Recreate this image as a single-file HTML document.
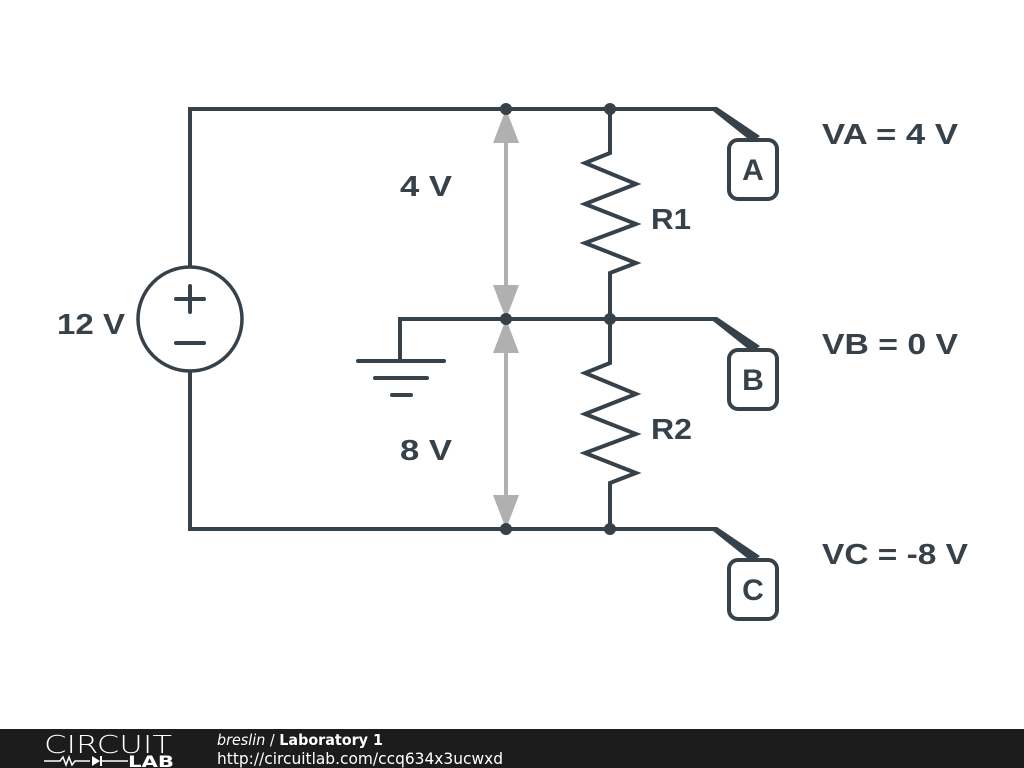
<!DOCTYPE html>
<html><head><meta charset="utf-8"><style>
html,body{margin:0;padding:0;background:#fff;}
svg{display:block}
text{font-family:"DejaVu Sans","Liberation Sans",sans-serif;}
.l{font-family:"Liberation Sans","DejaVu Sans",sans-serif;}
</style></head><body>
<svg width="1024" height="768" viewBox="0 0 1024 768" xmlns="http://www.w3.org/2000/svg">
<rect width="1024" height="768" fill="#fff"/>
<g stroke="#b0b0b0" stroke-width="4" fill="#b0b0b0">
<line x1="506" y1="130" x2="506" y2="300"/>
<line x1="506" y1="340" x2="506" y2="510"/>
</g>
<g fill="#b0b0b0">
<polygon points="506,109 493,143 519,143"/>
<polygon points="506,319 493,285 519,285"/>
<polygon points="506,319 493,353 519,353"/>
<polygon points="506,529 493,495 519,495"/>
</g>
<g stroke="#37414a" stroke-width="4" fill="none" stroke-linejoin="miter" stroke-linecap="round">
<polyline points="190,266 190,109 715,109"/>
<polyline points="190,372 190,529 715,529"/>
<line x1="506" y1="319" x2="715" y2="319"/>
<polyline points="400,361 400,319 506,319"/>
<line x1="358" y1="361" x2="444" y2="361"/>
<line x1="375" y1="378" x2="427" y2="378"/>
<line x1="392" y1="395" x2="411" y2="395"/>
<circle cx="190" cy="319" r="52" stroke-width="3.5"/>
<line x1="176" y1="299" x2="204" y2="299"/><line x1="190" y1="286" x2="190" y2="312"/>
<line x1="176" y1="343" x2="204" y2="343"/>
<polyline points="610,109 610,153 585,163 636,184 585,204 636,224 585,243 636,263 610,273 610,319"/>
<polyline points="610,319 610,363 585,373 636,394 585,414 636,434 585,453 636,473 610,483 610,529"/>
<rect x="729" y="140" width="48" height="59" rx="9"/>
<rect x="729" y="350" width="48" height="59" rx="9"/>
<rect x="729" y="560" width="48" height="59" rx="9"/>
</g>
<g fill="#37414a">
<circle cx="506" cy="109" r="6"/><circle cx="610" cy="109" r="6"/>
<circle cx="506" cy="319" r="6"/><circle cx="610" cy="319" r="6"/>
<circle cx="506" cy="529" r="6"/><circle cx="610" cy="529" r="6"/>
<polygon points="713,107 717,107 760,136 752,142 713,111"/>
<polygon points="713,317 717,317 760,346 752,352 713,321"/>
<polygon points="713,527 717,527 760,556 752,562 713,531"/>
</g>
<g fill="#37414a" font-weight="bold" font-size="29" class="l">
<text class="l" x="57" y="334" textLength="68" lengthAdjust="spacingAndGlyphs">12 V</text>
<text class="l" x="400" y="196" textLength="52" lengthAdjust="spacingAndGlyphs">4 V</text>
<text class="l" x="400" y="460" textLength="52" lengthAdjust="spacingAndGlyphs">8 V</text>
<text class="l" x="651" y="229" textLength="40" lengthAdjust="spacingAndGlyphs">R1</text>
<text class="l" x="651" y="439" textLength="41" lengthAdjust="spacingAndGlyphs">R2</text>
<text class="l" x="822" y="144" textLength="136" lengthAdjust="spacingAndGlyphs">VA = 4 V</text>
<text class="l" x="822" y="354" textLength="136" lengthAdjust="spacingAndGlyphs">VB = 0 V</text>
<text class="l" x="822" y="564" textLength="146" lengthAdjust="spacingAndGlyphs">VC = -8 V</text>
<text class="l" x="753" y="180" text-anchor="middle" font-size="30">A</text>
<text class="l" x="753" y="390" text-anchor="middle" font-size="30">B</text>
<text class="l" x="753" y="600" text-anchor="middle" font-size="30">C</text>
</g>
<rect x="0" y="729" width="1024" height="39" fill="#1c1c1c"/>
<text x="44" y="753" fill="#fff" font-size="25" font-weight="200" textLength="128" lengthAdjust="spacingAndGlyphs">CIRCUIT</text>
<polyline points="44,761 60,761 63,757 66,765 69,757 72,765 75,761 90,761" stroke="#fff" stroke-width="1.5" fill="none"/>
<polygon points="92,756 92,766 100,761" fill="#fff"/><line x1="101" y1="756" x2="101" y2="766" stroke="#fff" stroke-width="2"/>
<line x1="101" y1="761" x2="128" y2="761" stroke="#fff" stroke-width="1.5"/>
<text x="128" y="767" fill="#fff" font-size="16" font-weight="bold" textLength="46" lengthAdjust="spacingAndGlyphs">LAB</text>
<text x="217" y="745" fill="#fff" font-size="15" textLength="166" lengthAdjust="spacingAndGlyphs"><tspan font-style="italic">breslin</tspan> / <tspan font-weight="bold">Laboratory 1</tspan></text>
<text x="217" y="764" fill="#fff" font-size="16" textLength="286" lengthAdjust="spacingAndGlyphs">http://circuitlab.com/ccq634x3ucwxd</text>
</svg>
</body></html>
